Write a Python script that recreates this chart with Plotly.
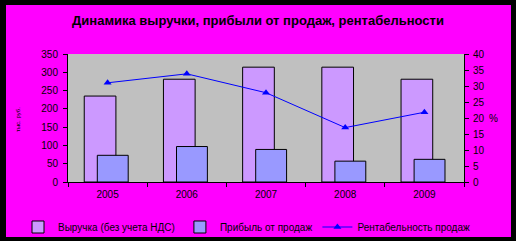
import plotly.graph_objects as go

years = ["2005", "2006", "2007", "2008", "2009"]
revenue = [235, 281, 314, 314, 281]
profit = [73, 97, 89, 57, 62]
profitability = [31.0, 33.8, 27.9, 17.0, 21.8]

left_ticks = [0, 50, 100, 150, 200, 250, 300, 350]
right_ticks = [0, 5, 10, 15, 20, 25, 30, 35, 40]

FONT = "Liberation Sans, Arial, sans-serif"

W, H = 516, 241
L, R, T, B = 68, 52, 54, 59
pw, ph = W - L - R, H - T - B


def px2x(px):
    return (px - L) / pw


def py2y(py):
    return (H - B - py) / ph


fig = go.Figure()
fig.add_trace(go.Bar(
    x=years, y=revenue, name="Выручка (без учета НДС)",
    marker=dict(color="#CC99FF", line=dict(color="black", width=1)),
    width=0.40, offset=-0.295,
))
fig.add_trace(go.Bar(
    x=years, y=profit, name="Прибыль от продаж",
    marker=dict(color="#9999FF", line=dict(color="black", width=1)),
    width=0.39, offset=-0.13,
))
fig.add_trace(go.Scatter(
    x=years, y=profitability, name="Рентабельность продаж", yaxis="y2",
    mode="lines+markers",
    line=dict(color="#0000FF", width=1),
    marker=dict(symbol="triangle-up", size=7, color="#0000FF"),
))

shapes = []
# black frame around the chart
for (x0, x1, y0, y1) in [(-20, 6, -20, H + 20), (511, W + 20, -20, H + 20),
                         (-20, W + 20, -20, 5), (-20, W + 20, 237, H + 20)]:
    shapes.append(dict(type="rect", xref="paper", yref="paper",
                       x0=px2x(x0), x1=px2x(x1), y0=py2y(y1), y1=py2y(y0),
                       fillcolor="black", line=dict(width=0), layer="above"))

axis_common = dict(showline=True, linecolor="black", linewidth=1, ticks="outside",
                   ticklen=4, tickcolor="black", showgrid=False, zeroline=False,
                   tickfont=dict(size=10))

fig.update_layout(
    width=W, height=H,
    margin=dict(l=L, r=R, t=T, b=B, pad=0, autoexpand=False),
    paper_bgcolor="#FF00FF", plot_bgcolor="#C0C0C0",
    barmode="overlay",
    font=dict(family=FONT, size=10, color="black"),
    title=dict(text="<b>Динамика выручки, прибыли от продаж, рентабельности</b>",
               x=0.5, xanchor="center", y=1 - 20 / H, yanchor="middle",
               font=dict(size=13, color="black", family=FONT)),
    xaxis=dict(type="category", tickson="boundaries", range=[-0.5, 4.5],
               ticklabelstandoff=3, **axis_common),
    yaxis=dict(range=[0, 350], tickvals=left_ticks, ticklabelstandoff=3, **axis_common),
    yaxis2=dict(range=[0, 40], tickvals=right_ticks, overlaying="y", side="right",
                ticklabelstandoff=2, **axis_common),
    showlegend=True,
    legend=dict(orientation="h", x=px2x(18), xanchor="left", y=py2y(227), yanchor="middle",
                bgcolor="rgba(0,0,0,0)", font=dict(size=10), traceorder="normal",
                itemwidth=30),
    shapes=shapes,
    annotations=[
        dict(text="%", xref="paper", yref="paper", x=px2x(493), y=py2y(118),
             xanchor="center", yanchor="middle", showarrow=False, font=dict(size=10)),
        dict(text="тыс. руб.", xref="paper", yref="paper", x=px2x(18), y=py2y(120),
             xanchor="center", yanchor="middle", showarrow=False, textangle=-90,
             font=dict(size=6)),
    ],
)

fig.write_html("out.html")
